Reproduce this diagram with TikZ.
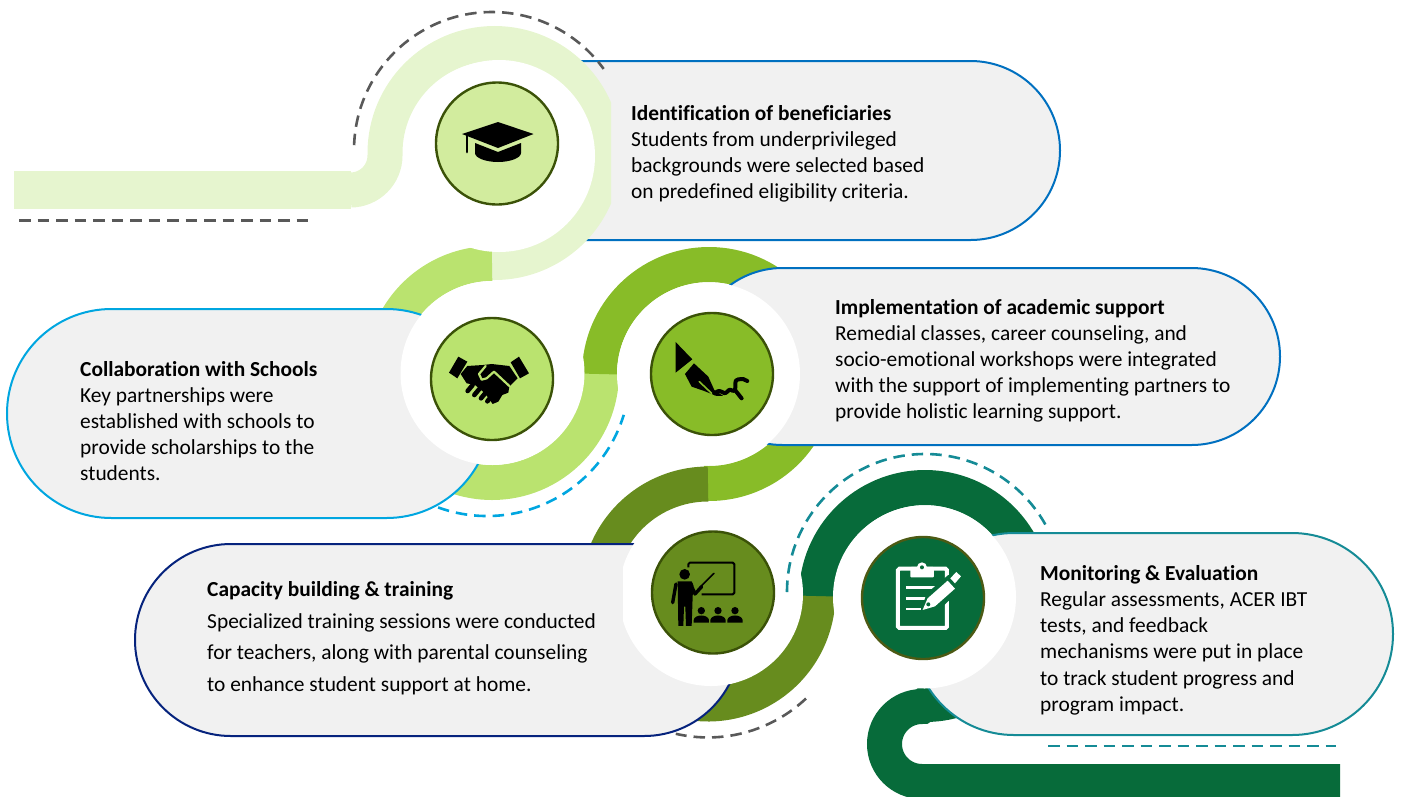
\documentclass[tikz,border=0pt]{standalone}
\usepackage{fontspec}
\setmainfont{Carlito}[Ligatures=CommonOff]
\definecolor{ringA}{HTML}{E6F5CF}
\definecolor{iconA}{HTML}{D2EC9E}
\definecolor{ringB}{HTML}{BAE36F}
\definecolor{ringC}{HTML}{88BC28}
\definecolor{ringD}{HTML}{678C1E}
\definecolor{ringE}{HTML}{076B3A}
\definecolor{cardfill}{HTML}{F1F1F1}
\definecolor{edgeA}{HTML}{0070C0}
\definecolor{edgeB}{HTML}{00A6E0}
\definecolor{edgeD}{HTML}{06237D}
\definecolor{edgeE}{HTML}{158B96}
\definecolor{dashgray}{HTML}{595959}
\definecolor{iconedge}{HTML}{3B5208}
\tikzset{
  ring/.style={line width=35pt,line cap=butt},
  card/.style={fill=cardfill,line width=2pt,rounded corners=#1},
  disc/.style={fill=white,draw=none},
  iconcircle/.style={circle,minimum size=122pt,inner sep=0pt,line width=2.4pt,draw=iconedge},
  dashline/.style={line width=2.6pt,dash pattern=on 11.5pt off 7pt},
  cardtext/.style={anchor=north west,align=left,inner sep=0pt,font=\fontsize{21.4}{26}\selectfont},
  zoomscope/.style 2 args={shift={(#1pt,-#2pt)},x=.3333pt,y=-.3333pt}
}
\begin{document}
\begin{tikzpicture}[x=1pt,y=-1pt]
\useasboundingbox (0,0) rectangle (1402,796);
\clip (0,0) rectangle (1402,796);

% --- step 1
\draw[card=89.5pt,draw=edgeA] (450,61) rectangle (1060,240);
\begin{scope}
\clip (0,0) rectangle (611,290);
\draw[ring,ringA] (350.5,190) arc[start angle=90,end angle=0,radius=34.5]
   -- (385,153) arc[start angle=180,end angle=452,radius=109.5];
\fill[ringA] (14,171) rectangle (351,209);
\end{scope}

% --- ring 2 and card 2
\draw[ring,ringB] (492,263.5) arc[start angle=270,end angle=170,radius=109.5];
\draw[ring,ringB] (601.5,373) arc[start angle=0,end angle=130,radius=109.5];
\draw[card=104.5pt,draw=edgeB] (7,309) rectangle (491,518);

% --- ring 3 and card 3
\draw[ring,ringC] (599.5,374) arc[start angle=180,end angle=453,radius=109.5];
\draw[card=88.5pt,draw=edgeA] (694,268) rectangle (1280,445);

% --- ring 4 and card 4
\draw[ring,ringD] (708,484) arc[start angle=270,end angle=170,radius=110];
\draw[ring,ringD] (818,594) arc[start angle=0,end angle=115,radius=110];
\draw[card=96pt,draw=edgeD] (135,544) rectangle (740,736);

% --- ring 5 and card 5
\draw[ring,ringE] (816.5,596) arc[start angle=180,end angle=450,radius=108.5]
   -- (922,706.5) arc[start angle=270,end angle=90,radius=37.5] -- (1340,781.5);
\draw[card=101pt,draw=edgeE] (913,533) rectangle (1393,735);

% --- white discs
\fill[disc] (499,156) circle[radius=96];
\fill[disc] (492.5,373) circle[radius=92];
\fill[disc] (708.5,374) circle[radius=91.5];
\begin{scope}
\clip (623,480) rectangle (820,700);
\fill[disc] (711,594) circle[radius=92];
\end{scope}
\fill[disc] (924.5,597) circle[radius=91.5];

% --- dashes
\draw[dashline,dashgray] (354.1,145.2) arc[start angle=182,end angle=324,radius=138];
\coordinate (dashAa) at (19,220.5); \coordinate (dashAb) at (308,220.5);
\draw[dashline,dashgray] (dashAa) -- (dashAb);
\draw[dashline,edgeB] (438.1,507.4) arc[start angle=110,end angle=17,radius=143];
\draw[dashline,dashgray] (806,698.5) arc[start angle=46.7,end angle=103,radius=143];
\draw[dashline,edgeE] (787,592) arc[start angle=180,end angle=332,radius=138];
\coordinate (dashEa) at (1048,746); \coordinate (dashEb) at (1336,746);
\draw[dashline,edgeE] (dashEa) -- (dashEb);

% --- icon circles
\node[iconcircle,fill=iconA] (icA) at (497,143.5) {};
\node[iconcircle,fill=ringB] (icB) at (492,379) {};
\node[iconcircle,fill=ringC] (icC) at (712,374) {};
\node[iconcircle,fill=ringD] (icD) at (713,592.5) {};
\node[iconcircle,fill=ringE,draw={rgb,255:red,76;green,90;blue,20}] (icE) at (923,598) {};

% --- mortarboard
\fill[black] (462,134) -- (498,122) -- (533.5,134) -- (498,148) -- cycle;
\draw[black,line width=2.8pt,line cap=round] (467,135) -- (467,152);
\fill[black] (475,143) -- (498,152) -- (521,143) -- (521,153)
  .. controls (521,158) and (510,162) .. (498,162) .. controls (486,162) and (475,158) .. (475,153) -- cycle;

% --- handshake
\begin{scope}[zoomscope={370}{230}]
\fill[black] (265,380) -- (292,395) -- (262,445) -- (237,428) -- cycle;
\fill[black] (447,380) -- (477,430) -- (450,445) -- (422,397) -- cycle;
\fill[black] (272,432) -- (292,408) -- (340,405) -- (365,402) -- (418,408) -- (443,445) -- (418,470)
  -- (415,488) -- (397,495) -- (385,515) -- (368,522) -- (345,490) -- (315,465) -- (290,460) -- cycle;
\draw[black,line width=4.6pt,line cap=round] (293,483) -- (308,465) (313,495) -- (328,477) (333,505) -- (348,487) (352,514) -- (367,496);
\draw[ringB,line width=2.2pt,line join=round,line cap=round] (347,408) -- (327,432) -- (335,449) -- (350,445) -- (372,425) -- (418,468);
\end{scope}

% --- pen
\begin{scope}[zoomscope={370}{230}]
\fill[black] (917,336) -- (967,388) -- (917,428) -- cycle;
\fill[black] (972,400) -- (1015,440) -- (1033,480) -- (1060,498) -- (1040,498) -- (1000,482) -- (965,470) -- (945,432) -- cycle;
\draw[ringC,line width=1.6pt,line cap=round] (988,455) -- (1025,490);
\draw[black,line width=4pt,line cap=round,line join=round] (1035,490)
  .. controls (1055,470) and (1058,500) .. (1072,485)
  .. controls (1085,470) and (1085,490) .. (1095,480)
  .. controls (1100,465) and (1090,450) .. (1105,448)
  .. controls (1115,445) and (1125,447) .. (1132,453);
\draw[black,line width=4pt,line cap=round] (1095,480) -- (1115,505);
\end{scope}

% --- teacher
\begin{scope}[zoomscope={580}{450}]
\draw[black,line width=2pt,line join=round,rounded corners=1.5pt] (325,352) -- (325,338) -- (463,338) -- (463,433) -- (365,433);
\fill[black] (314,373) circle[radius=16];
\fill[black] (293,394) -- (335,394) -- (340,405) -- (338,440) -- (335,528) -- (318,528) -- (316,470) -- (312,470) -- (310,528) -- (295,528) -- cycle;
\draw[black,line width=3.4pt,line cap=round] (288,402) -- (278,458);
\draw[black,line width=3.4pt,line cap=round,line join=round] (332,402) -- (345,432) -- (365,410);
\draw[black,line width=1.6pt,line cap=round] (360,412) -- (402,370);
\foreach \px in {364,414,465}{
  \fill[black] (\px,482) circle[radius=11];
  \fill[black] (\px-23,518) -- (\px-23,510) .. controls (\px-20,492) and (\px+20,492) .. (\px+23,510) -- (\px+23,518) -- cycle;
}
\end{scope}

% --- clipboard
\begin{scope}[zoomscope={580}{450}]
\draw[white,line width=4pt,rounded corners=1.5pt] (954,356) rectangle (1101,534);
\fill[white,rounded corners=1pt] (991,351) rectangle (1062,382);
\fill[white] (1026,352) circle[radius=15];
\fill[ringE] (1026,352) circle[radius=6];
\draw[white,line width=2.6pt] (978,413) -- (1067,413) (978,445) -- (1042,445) (978,477) -- (1022,477);
\fill[ringE] (1020,490) -- (1040,430) -- (1105,375) -- (1160,392) -- (1135,425) -- (1072,485) -- cycle;
\fill[white] (1028,480) -- (1043,445) -- (1103,392) -- (1125,416) -- (1065,469) -- cycle;
\fill[white] (1111,385) -- (1129,366) -- (1143,379) -- (1125,400) -- cycle;
\fill[ringE] (1045,463) circle[radius=6];
\end{scope}

% --- texts
\node[cardtext] (txA) at (631,105) {\textbf{Identification of beneficiaries}\\Students from underprivileged\\backgrounds were selected based\\on predefined eligibility criteria.};
\node[cardtext] (txB) at (80,361) {\textbf{Collaboration with Schools}\\Key partnerships were\\established with schools to\\provide scholarships to the\\students.};
\node[cardtext] (txC) at (835,299) {\textbf{Implementation of academic support}\\Remedial classes, career counseling, and\\socio-emotional workshops were integrated\\with the support of implementing partners to\\provide holistic learning support.};
\node[cardtext] (txDa) at (207,581) {\textbf{Capacity building \& training}};
\node[cardtext,font=\fontsize{21.4}{31.5}\selectfont] (txDb) at (207,613) {Specialized training sessions were conducted\\for teachers, along with parental counseling\\to enhance student support at home.};
\node[cardtext,font=\fontsize{21.4}{26.25}\selectfont] (txE) at (1040,565) {\textbf{Monitoring \& Evaluation}\\Regular assessments, ACER IBT\\tests, and feedback\\mechanisms were put in place\\to track student progress and\\program impact.};
\end{tikzpicture}
\end{document}
